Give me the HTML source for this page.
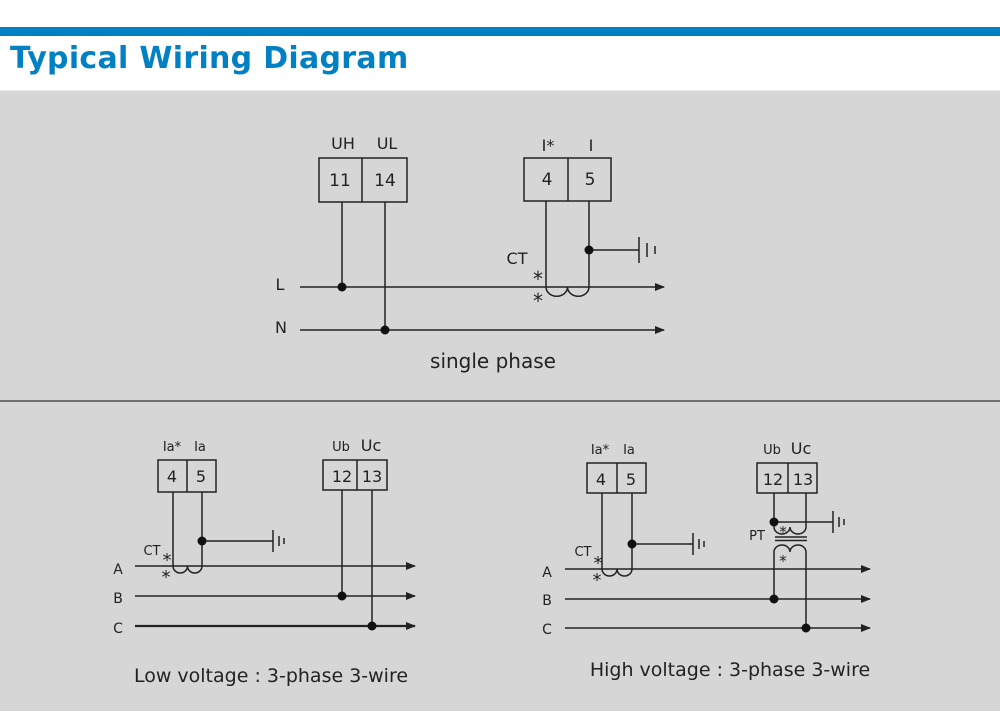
<!DOCTYPE html>
<html><head><meta charset="utf-8"><style>
body{margin:0;width:1000px;height:711px;overflow:hidden;background:#fff;font-family:"Liberation Sans","DejaVu Sans",sans-serif}
</style></head><body>
<svg width="1000" height="711" viewBox="0 0 1000 711" xmlns="http://www.w3.org/2000/svg" font-family="'DejaVu Sans','Liberation Sans',sans-serif">
<defs><marker id="ar" markerWidth="10" markerHeight="8" refX="9" refY="4" orient="auto" markerUnits="userSpaceOnUse"><path d="M0,0 L10,4 L0,8 z" fill="#222"/></marker></defs>
<rect x="0" y="27" width="1000" height="9" fill="#0180c3"/>
<text x="10" y="68" font-size="30" font-weight="bold" letter-spacing="0.3" fill="#0180c3" font-family="'DejaVu Sans',sans-serif">Typical Wiring Diagram</text>
<rect x="0" y="90" width="1000" height="621" fill="#d6d6d6"/>
<line x1="0" y1="90.5" x2="1000" y2="90.5" stroke="#e8e8e8"/>
<line x1="0" y1="401" x2="1000" y2="401" stroke="#333" stroke-width="1.3"/>
<g stroke="#222" stroke-width="1.5" fill="none">
<rect x="319" y="158" width="88" height="44"/><line x1="362" y1="158" x2="362" y2="202"/>
<line x1="342" y1="202" x2="342" y2="287"/><line x1="385" y1="202" x2="385" y2="330"/>
<line x1="300" y1="287" x2="664" y2="287" marker-end="url(#ar)"/>
<line x1="300" y1="330" x2="664" y2="330" marker-end="url(#ar)"/>
<rect x="524" y="158" width="87" height="43"/><line x1="568" y1="158" x2="568" y2="201"/>
<line x1="546" y1="201" x2="546" y2="287"/><line x1="589" y1="201" x2="589" y2="287"/>
<path d="M546,287 A10.5,9 0 0 0 567.5,287 A10.5,9 0 0 0 589,287"/>
<line x1="589" y1="250" x2="639" y2="250"/><line x1="639" y1="237" x2="639" y2="263"/><line x1="647" y1="243" x2="647" y2="257"/><line x1="655" y1="246" x2="655" y2="254"/>
<rect x="158" y="460" width="58" height="32"/><line x1="187" y1="460" x2="187" y2="492"/>
<line x1="173" y1="492" x2="173" y2="566"/><line x1="202" y1="492" x2="202" y2="566"/>
<path d="M173,566 A7.25,7 0 0 0 187.5,566 A7.25,7 0 0 0 202,566"/>
<line x1="202" y1="541" x2="273" y2="541"/><line x1="273" y1="530" x2="273" y2="552"/><line x1="279" y1="536" x2="279" y2="546"/><line x1="284" y1="538" x2="284" y2="544"/>
<rect x="323" y="460" width="64" height="30"/><line x1="357" y1="460" x2="357" y2="490"/>
<line x1="342" y1="490" x2="342" y2="596"/><line x1="372" y1="490" x2="372" y2="626"/>
<line x1="135" y1="566" x2="415" y2="566" marker-end="url(#ar)"/>
<line x1="135" y1="596" x2="415" y2="596" marker-end="url(#ar)"/>
<line x1="135" y1="626" x2="415" y2="626" stroke-width="2.2" marker-end="url(#ar)"/>
<rect x="587" y="463" width="59" height="30"/><line x1="617" y1="463" x2="617" y2="493"/>
<line x1="602" y1="493" x2="602" y2="569"/><line x1="632" y1="493" x2="632" y2="569"/>
<path d="M602,569 A7.5,7 0 0 0 617,569 A7.5,7 0 0 0 632,569"/>
<line x1="632" y1="544" x2="693" y2="544"/><line x1="693" y1="533" x2="693" y2="555"/><line x1="699" y1="539" x2="699" y2="549"/><line x1="704" y1="541" x2="704" y2="547"/>
<rect x="757" y="463" width="60" height="30"/><line x1="788" y1="463" x2="788" y2="493"/>
<line x1="774" y1="493" x2="774" y2="527"/><line x1="806" y1="493" x2="806" y2="527"/>
<path d="M774,527 A8,7 0 0 0 790,527 A8,7 0 0 0 806,527"/>
<line x1="775" y1="537" x2="807" y2="537"/><line x1="775" y1="540.5" x2="807" y2="540.5"/>
<path d="M774,552 A8,7 0 0 1 790,552 A8,7 0 0 1 806,552"/>
<line x1="774" y1="552" x2="774" y2="599"/><line x1="806" y1="552" x2="806" y2="628"/>
<line x1="774" y1="522" x2="833" y2="522"/><line x1="833" y1="511" x2="833" y2="533"/><line x1="839" y1="517" x2="839" y2="527"/><line x1="844" y1="519" x2="844" y2="525"/>
<line x1="565" y1="569" x2="870" y2="569" marker-end="url(#ar)"/>
<line x1="565" y1="599" x2="870" y2="599" marker-end="url(#ar)"/>
<line x1="565" y1="628" x2="870" y2="628" marker-end="url(#ar)"/>
</g>
<g fill="#111">
<circle cx="342" cy="287" r="4.5"/><circle cx="385" cy="330" r="4.5"/><circle cx="589" cy="250" r="4.5"/>
<circle cx="202" cy="541" r="4.5"/><circle cx="342" cy="596" r="4.5"/><circle cx="372" cy="626" r="4.5"/>
<circle cx="632" cy="544" r="4.5"/><circle cx="774" cy="522" r="4.5"/><circle cx="774" cy="599" r="4.5"/><circle cx="806" cy="628" r="4.5"/>
</g>
<g fill="#222" font-size="16" text-anchor="middle">
<text x="343" y="149">UH</text><text x="387" y="149">UL</text>
<text x="340" y="186" font-size="17">11</text><text x="385" y="186" font-size="17">14</text>
<text x="548" y="151">I*</text><text x="591" y="151">I</text>
<text x="547" y="185" font-size="17">4</text><text x="590" y="185" font-size="17">5</text>
<text x="517" y="264">CT</text><text x="538" y="286" font-size="20">*</text><text x="538" y="308" font-size="20">*</text>
<text x="280" y="290">L</text><text x="281" y="333">N</text>
<text x="493" y="368" font-size="20">single phase</text>
<text x="172" y="451" font-size="13">Ia*</text><text x="200" y="451" font-size="13">Ia</text>
<text x="172" y="482">4</text><text x="201" y="482">5</text>
<text x="341" y="451" font-size="13">Ub</text><text x="371" y="451" font-size="16">Uc</text>
<text x="342" y="482">12</text><text x="372" y="482">13</text>
<text x="152" y="555" font-size="13">CT</text><text x="167" y="566" font-size="18">*</text><text x="166" y="583" font-size="18">*</text>
<text x="118" y="574" font-size="14">A</text><text x="118" y="603" font-size="14">B</text><text x="118" y="633" font-size="14">C</text>
<text x="271" y="682" font-size="19">Low voltage : 3-phase 3-wire</text>
<text x="600" y="454" font-size="13">Ia*</text><text x="629" y="454" font-size="13">Ia</text>
<text x="601" y="485">4</text><text x="631" y="485">5</text>
<text x="772" y="454" font-size="13">Ub</text><text x="801" y="454" font-size="16">Uc</text>
<text x="773" y="485">12</text><text x="803" y="485">13</text>
<text x="583" y="556" font-size="13">CT</text><text x="598" y="569" font-size="18">*</text><text x="597" y="586" font-size="18">*</text>
<text x="757" y="540" font-size="13">PT</text><text x="783" y="537" font-size="15">*</text><text x="783" y="566" font-size="15">*</text>
<text x="547" y="577" font-size="14">A</text><text x="547" y="605" font-size="14">B</text><text x="547" y="634" font-size="14">C</text>
<text x="730" y="676" font-size="19">High voltage : 3-phase 3-wire</text>
</g>
</svg>
</body></html>
